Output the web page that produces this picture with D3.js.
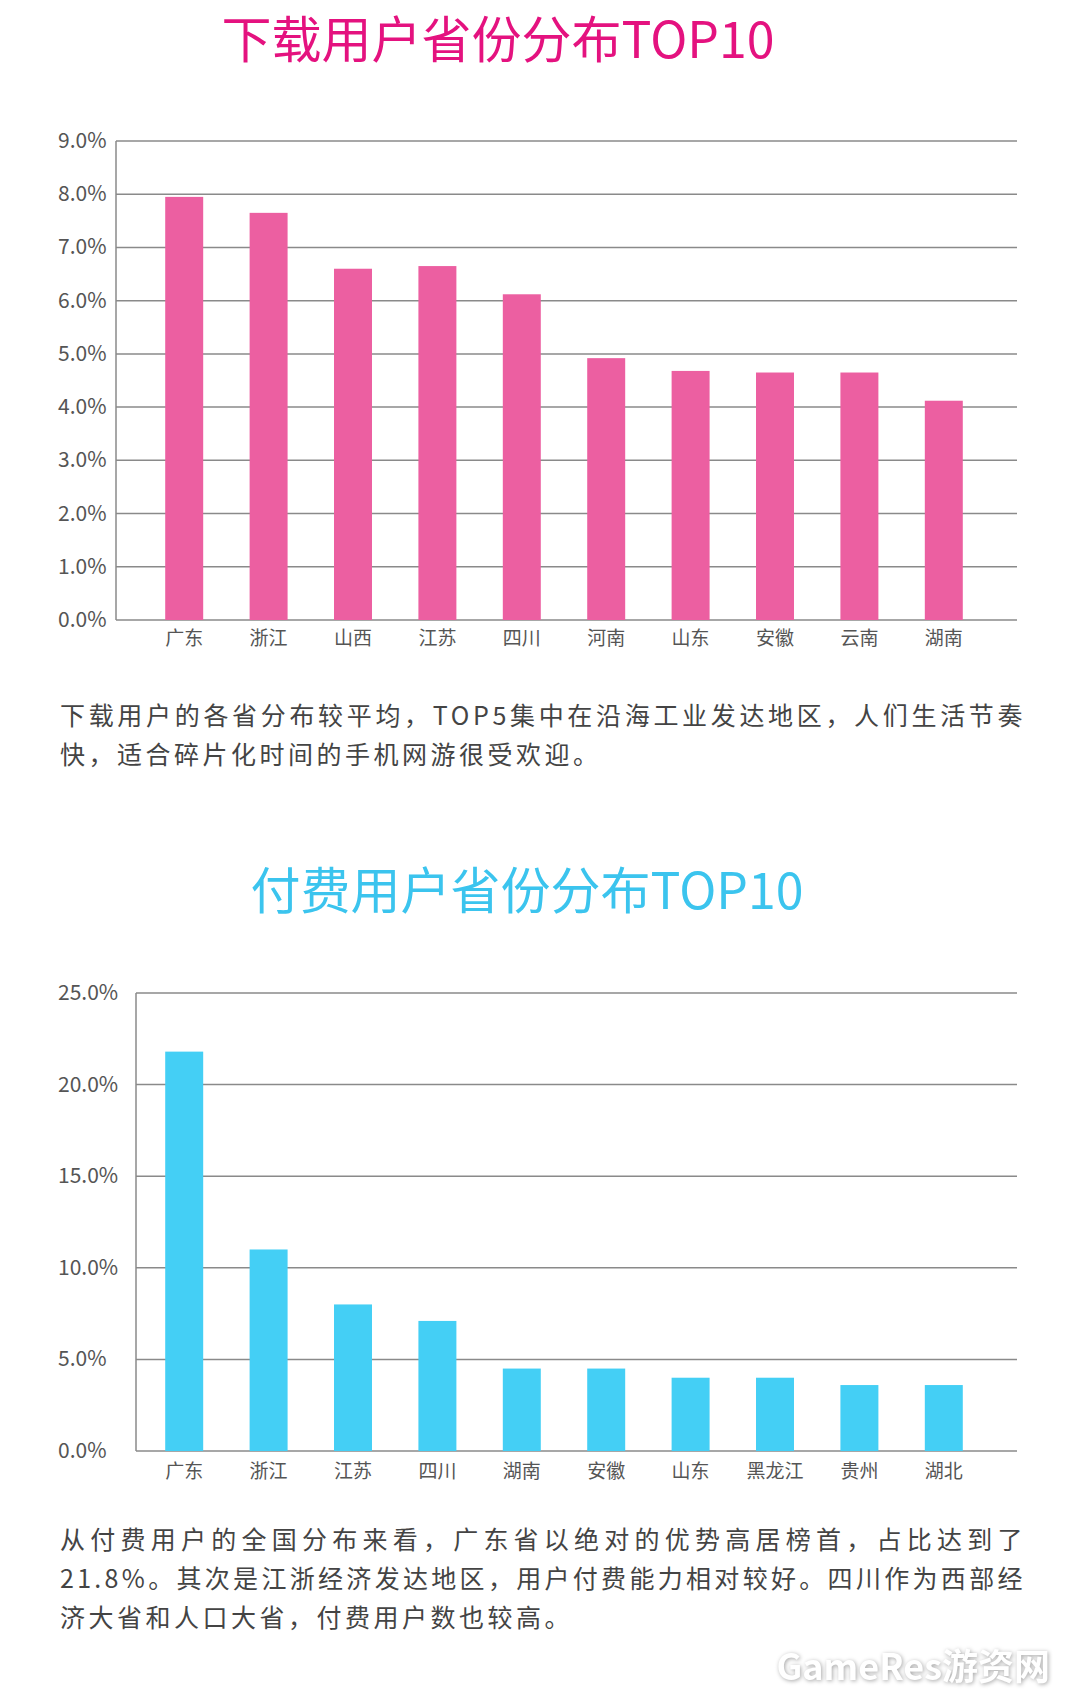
<!DOCTYPE html>
<html><head><meta charset="utf-8">
<script src="https://cdn.jsdelivr.net/npm/d3@7"></script>
<style>body{margin:0;background:#fff}</style></head>
<body><svg id="c" width="1074" height="1700"></svg>
<script>
const cats1=["广东","浙江","山西","江苏","四川","河南","山东","安徽","云南","湖南"];
const vals1=[7.95,7.65,6.6,6.65,6.12,4.92,4.68,4.65,4.65,4.12];
const ticks1=[0,1,2,3,4,5,6,7,8,9];
const cats2=["广东","浙江","江苏","四川","湖南","安徽","山东","黑龙江","贵州","湖北"];
const vals2=[21.8,11.0,8.0,7.1,4.5,4.5,4.0,4.0,3.6,3.6];
const ticks2=[0,5,10,15,20,25];
const svg=d3.select("#c");
const font="'Noto Sans CJK SC',sans-serif";
function chart(cats,vals,ticks,max,x0,top,bottom,color,labelX,labelY){
  const x=d3.scaleBand().domain(cats).range([142,986]).paddingInner(0.55).paddingOuter(0.275);
  const y=d3.scaleLinear().domain([0,max]).range([bottom,top]);
  const g=svg.append("g");
  g.selectAll(".gl").data(ticks).join("line").attr("x1",x0).attr("x2",1017)
   .attr("y1",d=>y(d)).attr("y2",d=>y(d)).attr("stroke","#8a8a8a").attr("stroke-width",1.5);
  g.append("line").attr("x1",x0).attr("x2",x0).attr("y1",top).attr("y2",bottom).attr("stroke","#8a8a8a").attr("stroke-width",1.5);
  g.selectAll("text.t").data(ticks).join("text").attr("x",labelX).attr("y",d=>y(d)+7)
   .attr("font-family",font).attr("font-size",21).attr("fill","#555").text(d=>d.toFixed(1)+"%");
  g.selectAll("rect").data(vals).join("rect").attr("x",(d,i)=>x(cats[i])).attr("width",x.bandwidth())
   .attr("y",d=>y(d)).attr("height",d=>bottom-y(d)).attr("fill",color);
  g.selectAll("text.c").data(cats).join("text").attr("x",d=>x(d)+x.bandwidth()/2).attr("y",labelY)
   .attr("text-anchor","middle").attr("font-family",font).attr("font-size",19).attr("fill","#555").text(d=>d);
}
svg.append("text").attr("x",498).attr("y",58).attr("text-anchor","middle").attr("font-family",font)
 .attr("font-size",50).attr("fill","#e4127f").text("下载用户省份分布TOP10");
chart(cats1,vals1,ticks1,9,116,141,620,"#ec5fa1",58,645);
function para(lines,y0){lines.forEach((l,i)=>{const t=svg.append("text").attr("x",60).attr("y",y0+i*39)
 .attr("font-family",font).attr("font-size",25).attr("fill","#444").attr("letter-spacing",3.5).text(l);
 if(i<lines.length-1) t.attr("textLength",966).attr("lengthAdjust","spacing");});}
para(["下载用户的各省分布较平均，TOP5集中在沿海工业发达地区，人们生活节奏","快，适合碎片化时间的手机网游很受欢迎。"],725);
svg.append("text").attr("x",527).attr("y",909).attr("text-anchor","middle").attr("font-family",font)
 .attr("font-size",50).attr("fill","#3bc4ee").text("付费用户省份分布TOP10");
chart(cats2,vals2,ticks2,25,136,993,1451,"#44cff5",58,1478);
para(["从付费用户的全国分布来看，广东省以绝对的优势高居榜首，占比达到了","21.8%。其次是江浙经济发达地区，用户付费能力相对较好。四川作为西部经","济大省和人口大省，付费用户数也较高。"],1549);
svg.append("text").attr("x",1050).attr("y",1680).attr("text-anchor","end").attr("font-family",font)
 .attr("font-size",36).attr("font-weight","bold").attr("fill","#fff")
 .style("filter","drop-shadow(1px 1px 2px rgba(0,0,0,0.35))").text("GameRes游资网");
</script></body></html>
